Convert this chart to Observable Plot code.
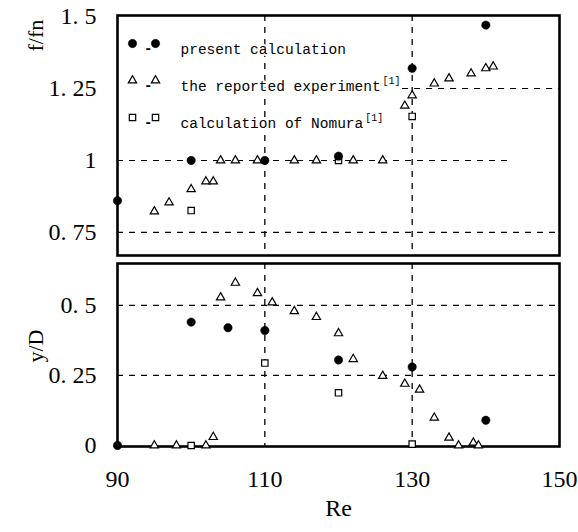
<!DOCTYPE html>
<html><head><meta charset="utf-8">
<script src="https://cdn.jsdelivr.net/npm/d3@7"></script>
<script src="https://cdn.jsdelivr.net/npm/@observablehq/plot@0.6"></script>
<style>
body{margin:0;background:#fff;}
#chart{width:578px;height:532px;}
#chart svg{display:block;overflow:visible;}
</style></head><body><div id="chart"></div>
<script>
// ---- data ----
const xTicks = [90, 110, 130, 150];
const fTicks = [0.75, 1, 1.25, 1.5];
const yTicks = [0, 0.25, 0.5];
const xGridLines = [110, 130];

// top panel: f/fn
const presentReF = [90, 100, 110, 120, 130, 140];
const presentF   = [0.86, 1.0, 1.0, 1.015, 1.32, 1.47];
const expReF = [95, 97, 100, 102, 103, 104, 106, 109, 114, 117, 122, 126, 129, 130, 133, 135, 138, 140, 141];
const expF   = [0.823, 0.854, 0.90, 0.927, 0.927, 1.0, 1.0, 1.0, 1.0, 1.0, 1.0, 1.0, 1.19, 1.226, 1.267, 1.285, 1.302, 1.32, 1.326];
const nomReF = [100, 120, 130];
const nomF   = [0.826, 1.0, 1.153];

// bottom panel: y/D
const presentReY = [90, 100, 105, 110, 120, 130, 140];
const presentY   = [0, 0.44, 0.42, 0.41, 0.305, 0.28, 0.09];
const expReY = [95, 98, 102, 103, 104, 106, 109, 111, 114, 117, 120, 122, 126, 129, 131, 133, 135, 136.3, 138.3, 139];
const expY   = [0, 0, 0, 0.03, 0.528, 0.58, 0.543, 0.51, 0.479, 0.458, 0.40, 0.308, 0.248, 0.22, 0.199, 0.099, 0.028, 0, 0.01, 0];
const nomReY = [100, 110, 120, 130];
const nomY   = [0, 0.294, 0.188, 0.005];

// partial horizontal grid lines of the top panel
const topGridY  = [0.75, 1, 1.25];
const topGridX1 = [90, 90, 128.7];
const topGridX2 = [150, 143.6, 150];
const bottomGridY = [0.25, 0.5];

const legendLabels = ["present calculation", "the reported experiment", "calculation of Nomura"];
const legendRefs = ["", "[1]", "[1]"];

// ---- helpers ----
const zip = (xs, ys) => xs.map((x, i) => ({x, y: ys[i]}));
const serif = "'Liberation Serif', 'Times New Roman', serif";
const mono = "'Liberation Mono', 'DejaVu Sans Mono', monospace";
const fmt = d => String(d).replace(".", ". ");
const dash = "6,6";
const W = 578;

const styles = [
  {symbol: "square", r: 3.6, fill: "white", stroke: "black", strokeWidth: 1.2},
  {symbol: "triangle", r: 3.1, fill: "white", stroke: "black", strokeWidth: 1.2},
  {symbol: "circle", r: 4.2, fill: "black", stroke: "black", strokeWidth: 0.5}
];
const legendOrder = [2, 1, 0]; // circle, triangle, square
const rowDy = [28, 65, 102];
const legendFont = 14.5;
const charW = legendFont * 0.6;

function legendMarks() {
  const marks = [];
  legendLabels.forEach((lab, i) => {
    const st = styles[legendOrder[i]];
    const dy = rowDy[i];
    marks.push(Plot.dot([0], {x: null, y: null, frameAnchor: "top-left", dx: 15, dy, ...st}));
    marks.push(Plot.dot([0], {x: null, y: null, frameAnchor: "top-left", dx: 38, dy, ...st}));
    marks.push(Plot.text(["-"], {frameAnchor: "top-left", dx: 26.5, dy, fontSize: 14, fontFamily: mono, fontWeight: "bold"}));
    marks.push(Plot.text([lab], {frameAnchor: "top-left", dx: 63, dy, textAnchor: "start", fontSize: legendFont, fontFamily: mono, stroke: "white", strokeWidth: 4, fill: "black"}));
    if (legendRefs[i]) {
      marks.push(Plot.text([legendRefs[i]], {frameAnchor: "top-left", dx: 63 + lab.length * charW + 2, dy: dy - 4, textAnchor: "start", fontSize: 10, fontFamily: mono, stroke: "white", strokeWidth: 3, fill: "black"}));
    }
  });
  return marks;
}

const topPlot = Plot.plot({
  width: W, height: 259,
  marginLeft: 117, marginRight: 19, marginTop: 15, marginBottom: 4,
  style: {fontFamily: serif, fontSize: "24px", background: "white", color: "black", overflow: "visible"},
  x: {domain: [90, 150], axis: null},
  y: {domain: [0.670, 1.5035], ticks: fTicks, tickFormat: fmt, tickSize: 0, tickPadding: 21, label: null},
  marks: [
    Plot.ruleY(topGridY.map((y, i) => ({y, x1: topGridX1[i], x2: topGridX2[i]})), {y: "y", x1: "x1", x2: "x2", stroke: "black", strokeWidth: 1.2, strokeDasharray: dash}),
    Plot.ruleX(xGridLines, {stroke: "black", strokeWidth: 1.3, strokeDasharray: dash}),
    ...legendMarks(),
    Plot.dot(zip(nomReF, nomF), {x: "x", y: "y", ...styles[0]}),
    Plot.dot(zip(expReF, expF), {x: "x", y: "y", ...styles[1]}),
    Plot.dot(zip(presentReF, presentF), {x: "x", y: "y", ...styles[2]}),
    Plot.frame({stroke: "black", strokeWidth: 2.6}),
    Plot.text(["f/fn"], {frameAnchor: "top-left", dx: -90, dy: 36, rotate: -90, fontSize: 22, fontFamily: serif})
  ]
});

const bottomPlot = Plot.plot({
  width: W, height: 273,
  marginLeft: 117, marginRight: 19, marginTop: 4, marginBottom: 86,
  style: {fontFamily: serif, fontSize: "24px", background: "white", color: "black", overflow: "visible"},
  x: {domain: [90, 150], ticks: xTicks, tickSize: 0, tickPadding: 23, label: null},
  y: {domain: [-0.0035, 0.649], ticks: yTicks, tickFormat: fmt, tickSize: 0, tickPadding: 21, label: null},
  marks: [
    Plot.ruleY(bottomGridY, {stroke: "black", strokeWidth: 1.2, strokeDasharray: dash}),
    Plot.ruleX(xGridLines, {stroke: "black", strokeWidth: 1.3, strokeDasharray: dash}),
    Plot.frame({stroke: "black", strokeWidth: 2.6}),
    Plot.dot(zip(nomReY, nomY), {x: "x", y: "y", ...styles[0]}),
    Plot.dot(zip(expReY, expY), {x: "x", y: "y", ...styles[1]}),
    Plot.dot(zip(presentReY, presentY), {x: "x", y: "y", ...styles[2]}),
    Plot.text(["y/D"], {frameAnchor: "top-left", dx: -90, dy: 99, rotate: -90, fontSize: 22, fontFamily: serif}),
    Plot.text(["Re"], {frameAnchor: "bottom", dy: 69, fontSize: 24, fontFamily: serif})
  ]
});

const el = document.getElementById("chart");
el.appendChild(topPlot);
el.appendChild(bottomPlot);
</script>
</body></html>
